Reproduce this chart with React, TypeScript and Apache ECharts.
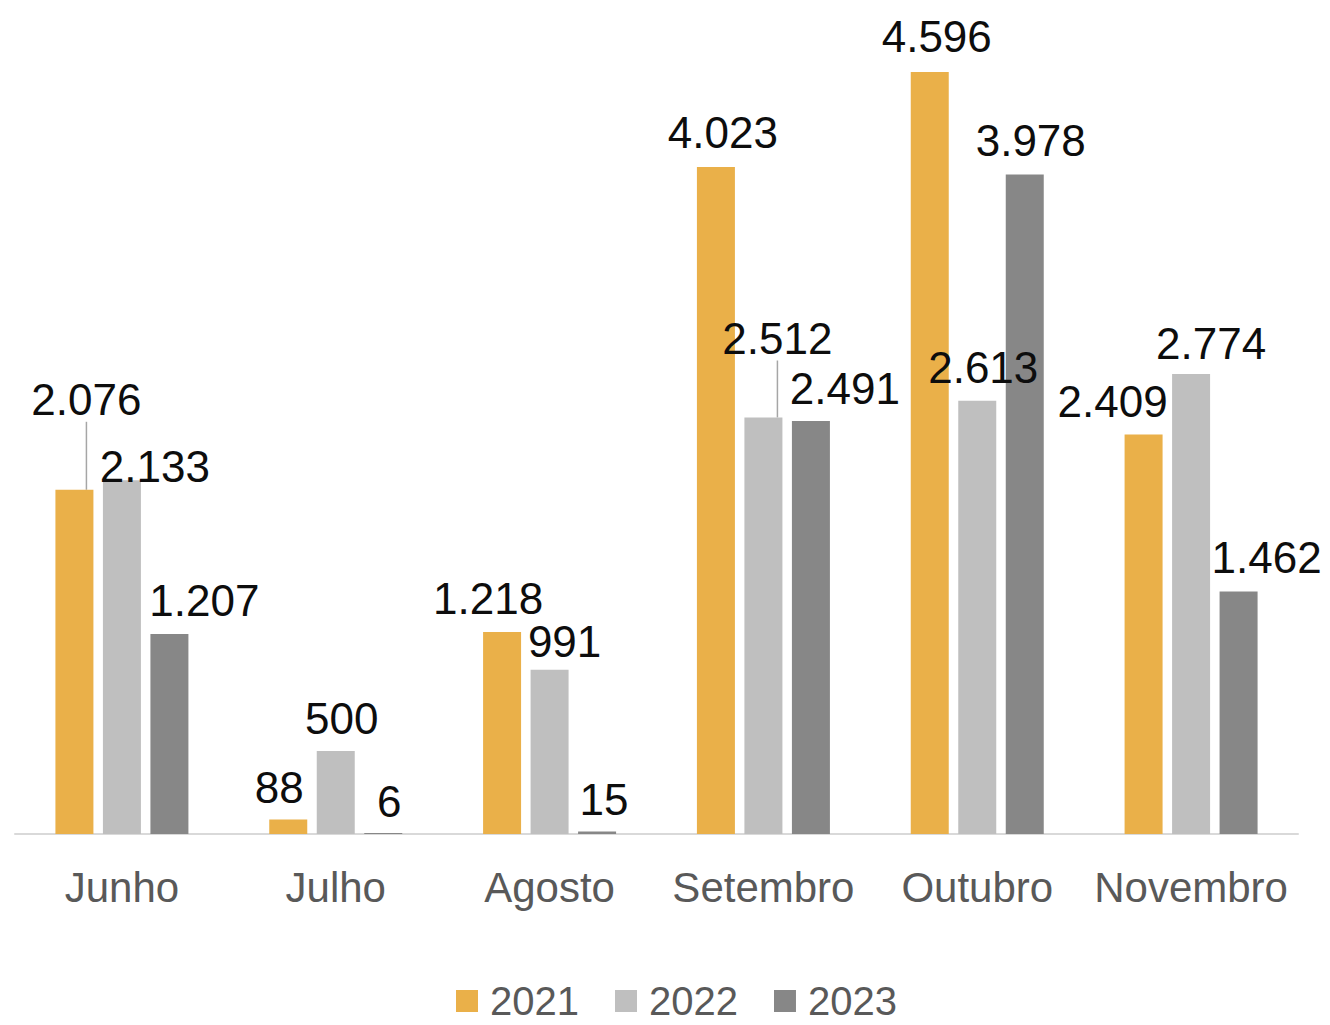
import React, { useEffect, useRef } from "react";
import * as echarts from "echarts";

const categories = ["Junho", "Julho", "Agosto", "Setembro", "Outubro", "Novembro"];
const seriesNames = ["2021", "2022", "2023"];
const values2021 = [2076, 88, 1218, 4023, 4596, 2409];
const values2022 = [2133, 500, 991, 2512, 2613, 2774];
const values2023 = [1207, 6, 15, 2491, 3978, 1462];
const colors = ["#EAB049", "#BFBFBF", "#878787"];
// label nudges [dx, dy] per series / category, as Excel labels were moved by hand
const labelShift2021 = [[12, -63], [-9, -5], [-14, -7], [7, -7], [7, -8], [-31, -6]];
const labelShift2022 = [[33, 13], [6, -6], [15, -1], [14, -52], [6, -6], [20, -4]];
const labelShift2023 = [[35, -6], [6, -5], [7, -5], [34, -5], [6, -7], [28, -7]];
const leaderLines2021 = [true, false, false, false, false, false];
const leaderLines2022 = [false, false, false, true, false, false];
const leaderLines2023 = [false, false, false, false, false, false];

const FONT = "'Liberation Sans', Arial, sans-serif";

function fmt(v: number): string {
  return String(v).replace(/\B(?=(\d{3})+(?!\d))/g, ".");
}

export default function App() {
  const ref = useRef<HTMLDivElement>(null);
  useEffect(() => {
    if (!ref.current) return;
    const chart = echarts.init(ref.current, null, { renderer: "svg" });
    const all = [values2021, values2022, values2023];
    const shifts = [labelShift2021, labelShift2022, labelShift2023];
    const lines = [leaderLines2021, leaderLines2022, leaderLines2023];
    chart.setOption({
      animation: false,
      backgroundColor: "#ffffff",
      grid: { left: 15, right: 32, top: 5, bottom: 191, containLabel: false },
      legend: {
        data: seriesNames,
        left: 451,
        top: 976,
        itemWidth: 22,
        itemHeight: 22,
        itemGap: 36,
        icon: "rect",
        textStyle: { fontSize: 40, lineHeight: 40, color: "#595959", fontFamily: FONT, padding: [0, 0, 0, 7] },
      },
      xAxis: {
        type: "category",
        data: categories,
        axisLine: { show: true, lineStyle: { color: "#D9D9D9", width: 2 } },
        axisTick: { show: false },
        axisLabel: { interval: 0, fontSize: 42, color: "#595959", fontFamily: FONT, margin: 32 },
      },
      yAxis: {
        type: "value",
        min: 0,
        max: 5000,
        show: false,
        splitLine: { show: false },
      },
      series: all.map((vals, si) => ({
        name: seriesNames[si],
        type: "bar",
        barWidth: 38,
        barGap: "25%",
        itemStyle: { color: colors[si] },
        data: vals.map((v, ci) => ({
          value: v,
          labelLine: { show: lines[si][ci], lineStyle: { color: "#A6A6A6", width: 1.5 } },
        })),
        label: {
          show: true,
          position: "top",
          distance: 5,
          fontSize: 44,
          color: "#0D0D0D",
          fontFamily: FONT,
          formatter: (p: any) => fmt(p.value),
        },
        labelLine: { show: false, lineStyle: { color: "#A6A6A6", width: 1.5 } },
        labelLayout: (p: any) => ({ dx: shifts[si][p.dataIndex][0], dy: shifts[si][p.dataIndex][1] }),
      })),
    });
    return () => chart.dispose();
  }, []);
  return (
    <div
      ref={ref}
      style={{ position: "fixed", left: 0, top: 0, width: 1330, height: 1025, background: "#fff" }}
    />
  );
}
